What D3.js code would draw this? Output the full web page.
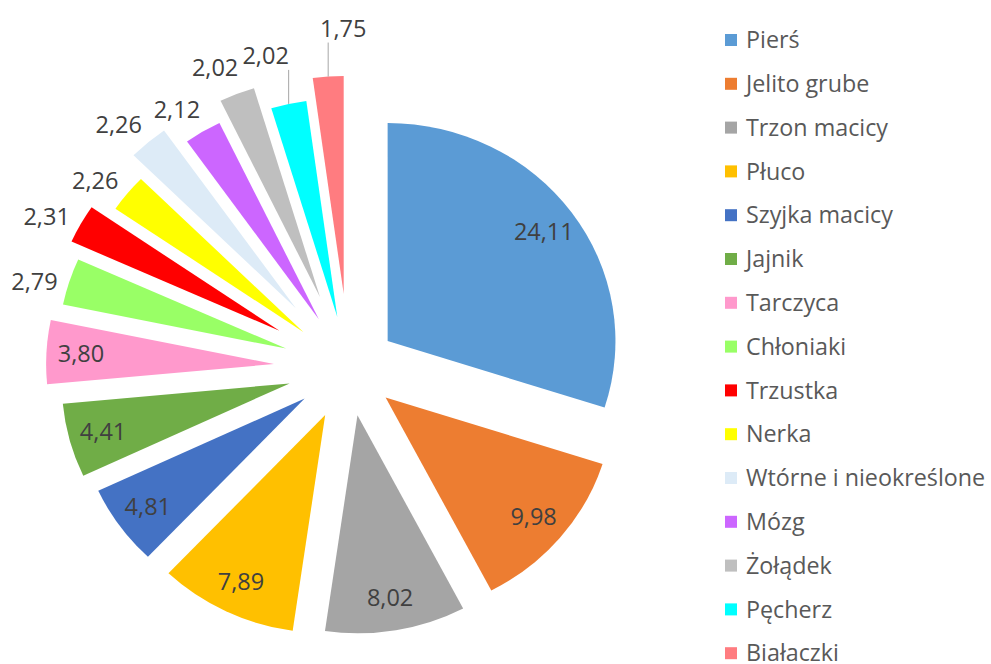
<!DOCTYPE html>
<html>
<head>
<meta charset="utf-8">
<script src="https://cdn.jsdelivr.net/npm/d3@7"></script>
<style>
    body { margin: 0; background: #fff; }
    svg { display: block; }
    text { font-family: 'Open Sans', Lato, sans-serif; }
</style>
</head>
<body>
<div id="chart"></div>
<script>
'use strict';

// Data
const categories = ['Pierś', 'Jelito grube', 'Trzon macicy', 'Płuco', 'Szyjka macicy', 'Jajnik',
    'Tarczyca', 'Chłoniaki', 'Trzustka', 'Nerka', 'Wtórne i nieokreślone', 'Mózg',
    'Żołądek', 'Pęcherz', 'Białaczki'];
const values = [24.11, 9.98, 8.02, 7.89, 4.81, 4.41, 3.80, 2.79, 2.31, 2.26, 2.26, 2.12, 2.02, 2.02, 1.75];
const colors = ['#5B9BD5', '#ED7D31', '#A5A5A5', '#FFC000', '#4472C4', '#70AD47', '#FF99CC',
    '#99FF66', '#FF0000', '#FFFF00', '#DDEBF7', '#CC66FF', '#BFBFBF', '#00FFFF', '#FF7C80'];
// explosion of each slice, as a share of the radius
const explode = [0.21, 0.21, 0.22, 0.24, 0.24, 0.27, 0.33, 0.29, 0.35, 0.26, 0.36, 0.26, 0.35, 0.24, 0.34];

const settings = {
    width: 991,
    height: 664,
    elId: '#chart'
};

const options = {
    cx: 349,
    cy: 368,
    radius: 218,
    stretch: 1.045,     // chart picture is a bit wider than tall
    insideAt: 185,      // distance of inside labels from slice tip
    outsideAt: 250,
    outsideShift: -2.3 * Math.PI / 180,
    leaderLen: 34,
    labelSize: 23.5,
    legendSize: 23.3
};

// labels with leader lines: horizontal nudge of the text
const leaderNudge = { 13: -23, 14: 15 };

const fmt = d3.formatLocale({ decimal: ',', thousands: ' ', grouping: [3], currency: ['', ''] }).format('.2f');

const data = categories.map((name, i) => ({ name, value: values[i], color: colors[i], explode: explode[i], i }));

const svg = d3.select(settings.elId)
    .append('svg')
    .attr('width', settings.width)
    .attr('height', settings.height);

const pie = d3.pie()
    .sort(null)
    .value(d => d.value);

const arc = d3.arc()
    .innerRadius(0)
    .outerRadius(options.radius);

const arcs = pie(data);

const dir = a => [Math.sin(a), -Math.cos(a)];
const toScreen = ([x, y]) => [options.cx + options.stretch * x, options.cy + y];
const mid = d => (d.startAngle + d.endAngle) / 2;

// Slices
const g = svg.append('g')
    .attr('transform', `translate(${options.cx},${options.cy}) scale(${options.stretch},1)`);

g.selectAll('path')
    .data(arcs)
    .enter()
    .append('path')
    .attr('transform', d => {
        const [ux, uy] = dir(mid(d));
        const off = d.data.explode * options.radius;
        return `translate(${ux * off},${uy * off})`;
    })
    .attr('d', arc)
    .attr('fill', d => d.data.color);

// Data labels
const labelGroup = svg.append('g').attr('id', 'labels');

arcs.forEach(d => {
    const off = d.data.explode * options.radius;
    const a = mid(d);
    const [ux, uy] = dir(a);
    let pos;
    if (d.data.i in leaderNudge) {
        const p = toScreen([ux * (off + options.radius), uy * (off + options.radius)]);
        labelGroup.append('line')
            .attr('x1', p[0]).attr('y1', p[1])
            .attr('x2', p[0]).attr('y2', p[1] - options.leaderLen)
            .attr('stroke', '#A6A6A6')
            .attr('stroke-width', 1);
        pos = [p[0] + leaderNudge[d.data.i], p[1] - options.leaderLen - 14];
    } else if (d.data.value > 3) {
        pos = toScreen([ux * (off + options.insideAt), uy * (off + options.insideAt)]);
    } else {
        const [vx, vy] = dir(a + options.outsideShift);
        pos = toScreen([ux * off + vx * options.outsideAt, uy * off + vy * options.outsideAt]);
    }
    labelGroup.append('text')
        .text(fmt(d.data.value))
        .attr('x', pos[0])
        .attr('y', pos[1])
        .attr('dy', '0.35em')
        .attr('text-anchor', 'middle')
        .attr('font-size', options.labelSize)
        .attr('fill', '#404040');
});

// Legend
const legend = svg.append('g')
    .attr('transform', 'translate(725,40)');

const rows = legend.selectAll('g')
    .data(data)
    .enter()
    .append('g')
    .attr('transform', (d, i) => `translate(0,${i * 43.8})`);

rows.append('rect')
    .attr('x', 0)
    .attr('y', -6)
    .attr('width', 12)
    .attr('height', 12)
    .attr('fill', d => d.color);

rows.append('text')
    .text(d => d.name)
    .attr('x', 21)
    .attr('dy', '0.35em')
    .attr('font-size', options.legendSize)
    .attr('fill', '#595959');
</script>
</body>
</html>
